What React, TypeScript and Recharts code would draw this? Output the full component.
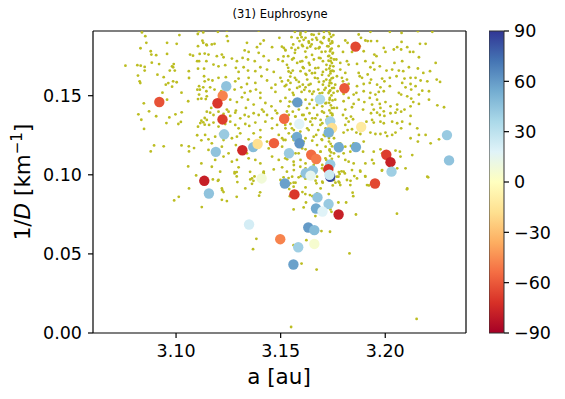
import React from 'react';
import { ScatterChart, Scatter, XAxis, YAxis, BarChart, Bar, ReferenceLine } from 'recharts';

// ---------- axes ----------
const xDomain: [number, number] = [3.0603, 3.2386];
const yDomain: [number, number] = [0, 0.1909];
const xTicks = [3.1, 3.15, 3.2];
const yTicks = [0, 0.05, 0.1, 0.15];
const cbTicks = [-90, -60, -30, 0, 30, 60, 90];
const cbRange: [number, number] = [-90, 90];

// ---------- background family members (a, 1/D) ----------
const bgLeft: [number, number][] = [
  [3.0837,0.190],[3.0853,0.1876],[3.0858,0.1834],[3.083,0.180],[3.1016,0.1883],[3.0957,0.1834],[3.1003,0.1828],[3.0879,0.1781],[3.0882,0.176],[3.0905,0.1756],[3.0957,0.1764],[3.0758,0.169],[3.0815,0.1693],[3.0831,0.169],[3.085,0.1682],[3.085,0.1659],[3.0884,0.1709],[3.0919,0.170],[3.0981,0.1686],[3.0989,0.170],[3.0986,0.168],[3.097,0.1659],[3.0994,0.1659],[3.0911,0.1633],[3.0818,0.1627],[3.0941,0.1617],[3.0826,0.1591],[3.0829,0.158],[3.0963,0.158],[3.0986,0.1591],[3.1003,0.1585],[3.0951,0.157],[3.0981,0.1557],[3.1026,0.1519],[3.0935,0.1519],[3.092,0.1479],[3.0957,0.1475],[3.0846,0.1452],[3.0871,0.1401],[3.082,0.1382],[3.0905,0.137],[3.0968,0.1363],[3.0997,0.1382],[3.1027,0.1395],[3.0834,0.1348],[3.0954,0.1327],[3.1011,0.1321],[3.1023,0.1334],[3.0847,0.129],[3.0895,0.1186],[3.0941,0.118],[3.0879,0.1148],[3.1026,0.1186],[3.1058,0.1053],[3.1096,0.0996],[3.1062,0.0914],[3.1013,0.0861],[3.1061,0.118],[3.1062,0.1148],[3.1086,0.1169],[3.1121,0.1072],
  [3.1104,0.189],[3.113,0.190],[3.111,0.1908],[3.1126,0.1848],[3.113,0.1834],[3.1105,0.1813],[3.1145,0.1823],[3.1067,0.176],[3.1081,0.1753],[3.1113,0.1764],[3.1137,0.1766],[3.1101,0.1718],[3.111,0.1718],[3.1145,0.1718],[3.1134,0.1671],[3.1105,0.1671],[3.1061,0.1655],[3.1062,0.1612],[3.1134,0.1623],[3.1137,0.1591],[3.111,0.156],[3.1102,0.1538],[3.1114,0.1538],[3.113,0.1553],[3.1145,0.1528],[3.111,0.1507],[3.1105,0.1479],[3.1121,0.1481],[3.1142,0.1479],[3.1058,0.1465],[3.1137,0.1359],[3.1121,0.1342],[3.1105,0.1304],[3.1116,0.1327],[3.113,0.1332],[3.1137,0.1317],[3.1101,0.125],[3.1121,0.1218],
];

const bgUpper: [number, number][] = [
  [3.120,0.1904],[3.1243,0.1912],[3.1395,0.1912],[3.1568,0.1904],[3.1595,0.1897],[3.1619,0.1904],[3.1648,0.1887],[3.1683,0.1891],[3.1707,0.1904],[3.1731,0.1904],[3.1752,0.1883],
  [3.1243,0.1876],[3.1248,0.1845],[3.1339,0.1834],[3.1171,0.1824],[3.1419,0.1849],[3.1403,0.1828],[3.1494,0.1866],[3.1552,0.187],[3.156,0.1824],[3.159,0.1845],[3.16,0.187],[3.1619,0.1866],[3.1635,0.1834],[3.1651,0.1855],[3.167,0.1866],[3.1691,0.184],[3.1707,0.187],[3.1731,0.1849],[3.1747,0.1834],
  [3.1147,0.1819],[3.1184,0.1828],[3.1219,0.176],[3.1328,0.1786],[3.1347,0.1777],[3.1387,0.1807],[3.1395,0.1771],[3.1459,0.1807],[3.1515,0.1802],[3.1523,0.1786],[3.1552,0.1802],[3.1568,0.1771],[3.1584,0.1802],[3.1606,0.1813],[3.1627,0.1802],[3.1648,0.1824],[3.1667,0.1798],[3.1686,0.1807],[3.1696,0.1777],[3.1723,0.1813],[3.1739,0.1792],[3.175,0.1771],
  [3.1155,0.176],[3.1195,0.175],[3.1227,0.1743],[3.1267,0.1735],[3.1291,0.1718],[3.1318,0.1739],[3.1344,0.1729],[3.1376,0.1718],[3.1419,0.175],[3.1443,0.1722],[3.1488,0.1729],[3.151,0.1718],[3.1536,0.175],[3.1555,0.1729],[3.1579,0.1707],[3.1603,0.1718],[3.1622,0.1743],[3.1635,0.1707],[3.1659,0.1729],[3.1683,0.1739],[3.1702,0.1718],[3.1728,0.175],[3.1739,0.1718],[3.1755,0.1729],
  [3.1179,0.1697],[3.1203,0.1686],[3.1235,0.1693],[3.1286,0.1676],[3.1299,0.165],[3.1323,0.168],[3.1344,0.1659],[3.1379,0.1655],[3.1403,0.168],[3.1435,0.1665],[3.1467,0.165],[3.1536,0.1676],[3.1549,0.1644],[3.1558,0.1659],[3.1595,0.1655],[3.1606,0.168],[3.1619,0.1638],[3.1638,0.1659],[3.1664,0.1644],[3.168,0.1676],[3.1702,0.165],[3.1718,0.1665],[3.1739,0.1655],[3.1752,0.1686],
  [3.1155,0.1602],[3.1174,0.1596],[3.1203,0.1613],[3.1238,0.1617],[3.1283,0.1591],[3.1299,0.1608],[3.1339,0.1574],[3.1347,0.1613],[3.1379,0.1581],[3.1408,0.1623],[3.1435,0.1596],[3.1475,0.157],[3.1499,0.1613],[3.1536,0.1596],[3.1547,0.1581],[3.1568,0.1613],[3.1587,0.1587],[3.1606,0.157],[3.1627,0.1602],[3.1643,0.1574],[3.1664,0.1613],[3.1683,0.1587],[3.1702,0.157],[3.1718,0.1602],[3.1734,0.1581],[3.175,0.1613],
  [3.1163,0.1553],[3.1184,0.1539],[3.1216,0.1528],[3.1235,0.1549],[3.128,0.1539],[3.1312,0.1553],[3.1328,0.1518],[3.1355,0.1528],[3.1382,0.1539],[3.1403,0.1518],[3.1456,0.1549],[3.1475,0.1524],[3.152,0.156],[3.1542,0.1539],[3.1558,0.1518],[3.1579,0.1549],[3.16,0.1524],[3.1619,0.1553],[3.1638,0.1528],[3.1651,0.1511],[3.168,0.1539],[3.1699,0.1518],[3.1715,0.1549],[3.1734,0.1528],[3.1755,0.1549],
  [3.1147,0.1496],[3.1259,0.1475],[3.1291,0.146],[3.1315,0.149],[3.1344,0.1475],[3.1371,0.1444],[3.1403,0.1486],[3.1427,0.1454],[3.1456,0.1433],[3.1499,0.1465],[3.1523,0.1486],[3.1539,0.1433],[3.1558,0.146],[3.1619,0.1475],[3.1638,0.1448],[3.1659,0.1423],[3.1675,0.1465],[3.1699,0.1433],[3.1718,0.1454],[3.1734,0.1475],[3.1755,0.1423],[3.1168,0.1423],[3.1243,0.1412],[3.1286,0.1406],[3.1334,0.1423],[3.1411,0.1412],[3.1475,0.1406],[3.1587,0.1412],
];

const bgUpperRight: [number, number][] = [
  [3.1809,0.1849],[3.182,0.1834],[3.1873,0.1887],[3.1884,0.1866],[3.1905,0.1849],[3.1916,0.1845],[3.1932,0.1845],[3.1961,0.1845],[3.1929,0.1904],[3.2022,0.1904],[3.2078,0.1897],[3.2156,0.1908],[3.2225,0.1904],
  [3.1777,0.1813],[3.1798,0.1777],[3.1841,0.1777],[3.1862,0.1798],[3.1878,0.1813],[3.1897,0.1781],[3.1948,0.176],[3.1958,0.175],[3.1993,0.1802],[3.2001,0.1777],[3.2041,0.1792],[3.2057,0.1807],[3.2078,0.184],[3.2076,0.1792],[3.2105,0.1807],[3.2118,0.1777],[3.2134,0.1777],[3.2161,0.1743],[3.2166,0.1828],[3.2193,0.1828],[3.2241,0.1707],
  [3.1766,0.1729],[3.1785,0.1707],[3.1817,0.1718],[3.1825,0.1697],[3.1865,0.1701],[3.1905,0.1718],[3.1929,0.168],[3.1942,0.1707],[3.1948,0.1665],[3.1974,0.1686],[3.2006,0.1659],[3.2033,0.1665],[3.2044,0.1707],[3.2065,0.1659],[3.2081,0.1718],[3.2113,0.168],[3.2086,0.1655],[3.2156,0.1672],[3.2182,0.1644],[3.2214,0.1655],
  [3.1753,0.1655],[3.1785,0.1665],[3.1809,0.1644],[3.1769,0.1623],[3.1793,0.1613],[3.1817,0.1602],[3.1873,0.1644],[3.1878,0.1623],[3.1889,0.1613],[3.1916,0.1634],[3.1932,0.1602],[3.1985,0.1608],[3.1996,0.1591],[3.2022,0.1613],[3.2054,0.1623],[3.2092,0.1608],[3.2121,0.1613],[3.2145,0.1613],[3.2169,0.1596],[3.2201,0.1591],[3.2246,0.1602],[3.2262,0.1587],
  [3.1761,0.157],[3.1798,0.1591],[3.1825,0.1574],[3.1865,0.156],[3.1897,0.1574],[3.1926,0.1581],[3.1961,0.157],[3.1977,0.1553],[3.2022,0.156],[3.2081,0.1581],[3.2097,0.1553],[3.2121,0.1574],[3.2124,0.1539],[3.2145,0.156],[3.2177,0.1532],[3.2209,0.1528],
  [3.1753,0.1518],[3.1772,0.1528],[3.1801,0.1511],[3.1849,0.1507],[3.1862,0.1518],[3.1897,0.1528],[3.1929,0.1518],[3.1953,0.1507],[3.1969,0.1524],[3.1993,0.1528],[3.2065,0.1518],[3.2076,0.1507],[3.2105,0.1496],[3.2124,0.1482],[3.2161,0.1507],[3.2209,0.1475],
  [3.1761,0.1475],[3.1801,0.1465],[3.1825,0.1486],[3.1849,0.1448],[3.1873,0.1475],[3.19,0.146],[3.1926,0.1486],[3.1937,0.1444],[3.1961,0.1475],[3.1974,0.1448],[3.2001,0.146],[3.2025,0.1433],[3.2057,0.1444],[3.2092,0.1412],[3.2121,0.1433],[3.2134,0.146],[3.2161,0.1448],[3.2249,0.1439],[3.2281,0.1427],
  [3.1769,0.1423],[3.1809,0.1412],[3.1841,0.1427],[3.1894,0.1412],[3.1945,0.1412],[3.1977,0.1423],[3.1993,0.1401],[3.2057,0.1412],
];

const bgMid: [number, number][] = [
  [3.1147,0.1399],[3.1163,0.1393],[3.1179,0.1378],[3.1203,0.1399],[3.1227,0.1385],[3.1251,0.1399],[3.1259,0.1372],[3.1283,0.1393],[3.1307,0.1357],[3.1328,0.1378],[3.1347,0.1368],[3.1371,0.1389],[3.1395,0.1378],[3.1419,0.1399],[3.1435,0.1378],[3.1459,0.1357],[3.1483,0.1389],[3.1499,0.1347],[3.1539,0.1378],[3.1558,0.1399],[3.1571,0.1368],[3.1603,0.1378],[3.1619,0.1351],[3.1638,0.1389],[3.1651,0.1357],[3.1675,0.1378],[3.1691,0.1347],[3.1707,0.1393],[3.1723,0.1368],[3.1747,0.1385],
  [3.1147,0.1347],[3.1158,0.1315],[3.1179,0.133],[3.1203,0.1305],[3.1235,0.1321],[3.1259,0.1336],[3.1283,0.1315],[3.1299,0.1294],[3.1331,0.1321],[3.135,0.1309],[3.1379,0.133],[3.1403,0.1283],[3.1427,0.1336],[3.1459,0.1294],[3.1483,0.1315],[3.1523,0.1294],[3.1547,0.1321],[3.1563,0.1283],[3.1627,0.1294],[3.1651,0.1315],[3.168,0.1283],[3.1699,0.1326],[3.1715,0.1294],
  [3.1139,0.1252],[3.1155,0.1224],[3.1171,0.1199],[3.1187,0.1241],[3.1211,0.1258],[3.1227,0.122],[3.1267,0.1231],[3.1291,0.1241],[3.1307,0.1262],[3.1347,0.1224],[3.1371,0.1262],[3.1403,0.1237],[3.1435,0.121],[3.1491,0.1252],[3.1507,0.1231],[3.1523,0.122],[3.1539,0.1262],[3.1555,0.1241],[3.1619,0.1231],[3.1651,0.1216],[3.167,0.1252],[3.1696,0.1224],[3.1712,0.1245],[3.1731,0.121],[3.1755,0.1231],
  [3.1155,0.1157],[3.1219,0.1178],[3.1251,0.1136],[3.1286,0.1188],[3.1339,0.1136],[3.1379,0.1157],[3.1443,0.1167],[3.1483,0.1199],[3.1507,0.1178],[3.1531,0.1146],[3.1571,0.1136],[3.1603,0.1167],[3.1619,0.1161],[3.1691,0.1146],[3.1715,0.1178],[3.1734,0.1153],[3.1755,0.1136],
  [3.1187,0.1094],[3.1227,0.1115],[3.1267,0.1083],[3.1291,0.1094],[3.1347,0.1104],[3.1379,0.1094],[3.1403,0.1072],[3.1459,0.1115],[3.1491,0.1094],[3.1531,0.1098],[3.1563,0.1062],[3.1595,0.1094],[3.1619,0.1072],[3.1675,0.1077],[3.1699,0.1062],[3.1718,0.1094],
  [3.1171,0.1051],[3.1211,0.102],[3.1299,0.1047],[3.1419,0.102],[3.1467,0.1034],[3.1507,0.1047],[3.1563,0.103],[3.1619,0.1041],[3.1651,0.102],[3.1707,0.103],
  [3.1203,0.0967],[3.128,0.1009],[3.1363,0.0977],[3.1419,0.1009],[3.1499,0.0967],[3.1555,0.0988],[3.1571,0.095],[3.1619,0.0977],[3.1667,0.0963],[3.1699,0.0956],[3.1755,0.0967],
  [3.1219,0.0914],[3.1331,0.0914],[3.1539,0.0935],[3.1619,0.092],[3.1691,0.0914],
];

const bgMidRight: [number, number][] = [
  [3.1798,0.1378],[3.1814,0.1357],[3.1836,0.1368],[3.1846,0.1351],[3.1825,0.1336],[3.1809,0.1315],[3.182,0.1283],[3.1801,0.1267],[3.1841,0.1288],[3.1862,0.1267],[3.1897,0.13],[3.1932,0.1389],[3.1961,0.1393],[3.1974,0.1378],[3.1996,0.1372],[3.2025,0.1389],[3.2049,0.1393],[3.2076,0.1399],[3.2121,0.1372],[3.2118,0.1321],[3.2076,0.1294],[3.2049,0.1267],[3.2033,0.1252],[3.2009,0.1245],[3.2001,0.1267],[3.1977,0.1258],[3.1953,0.1258],[3.1929,0.1267],[3.1897,0.121],[3.1881,0.1258],[3.191,0.1336],[3.1937,0.1347],[3.1945,0.133],[3.1977,0.1336],[3.1993,0.1326],[3.2033,0.1336],[3.2057,0.1326],[3.2081,0.1336],[3.2153,0.1294],[3.2161,0.1252],[3.2193,0.1252],[3.2217,0.1199],[3.2257,0.1224],[3.2156,0.121],[3.2121,0.1231],
  [3.1785,0.1199],[3.1809,0.1178],[3.1836,0.1182],[3.1849,0.1199],[3.1833,0.1146],[3.1801,0.1136],[3.1777,0.1115],[3.1809,0.1094],[3.1825,0.1083],[3.1849,0.1072],[3.1894,0.1146],[3.1945,0.1146],[3.1977,0.1161],[3.1985,0.1136],[3.2049,0.1153],[3.207,0.1146],[3.2129,0.1125],[3.2073,0.1115],[3.2097,0.1041],[3.2057,0.1041],[3.2041,0.1077],[3.1985,0.103],[3.1945,0.1072],[3.1937,0.1094],[3.1905,0.1072],[3.1881,0.102],[3.1841,0.103],[3.1801,0.102],[3.1782,0.1005],[3.1769,0.0988],[3.1817,0.0967],[3.1865,0.0977],[3.1905,0.0988],[3.1833,0.0935],[3.1785,0.0935],[3.1777,0.0956],[3.1913,0.0935],[3.2201,0.0988],[3.2105,0.0914],
];

const bgCluster: [number, number][] = [
  [3.1506,0.181],[3.1522,0.179],[3.1514,0.1748],[3.153,0.1695],[3.1538,0.1653],[3.1506,0.159],[3.1527,0.1568],[3.1546,0.1621],[3.1562,0.1737],[3.157,0.179],[3.1581,0.1864],[3.1594,0.1885],[3.161,0.1853],[3.1602,0.1821],[3.1618,0.1779],[3.1634,0.1843],[3.1642,0.1811],[3.165,0.1758],[3.1658,0.1885],[3.1674,0.1853],[3.1682,0.18],[3.169,0.1737],[3.1698,0.1832],[3.1706,0.1864],[3.1714,0.1779],[3.1719,0.1695],
  [3.1594,0.1716],[3.161,0.1674],[3.1623,0.1632],[3.1639,0.1695],[3.165,0.1642],[3.1666,0.1674],[3.1677,0.161],[3.1698,0.1632],[3.1706,0.159],[3.1575,0.16],[3.1591,0.1558],[3.1613,0.1537],[3.1634,0.1568],[3.1658,0.1526],[3.1687,0.1515],[3.1709,0.1537],[3.1562,0.1505],[3.1543,0.1463],[3.1597,0.1442],[3.1626,0.1421],[3.165,0.1473],[3.1674,0.1442],[3.1698,0.14],[3.1714,0.1452],
  [3.153,0.14],[3.157,0.1368],[3.161,0.1378],[3.1642,0.1336],[3.1666,0.1357],[3.169,0.1315],[3.1719,0.1347],[3.1522,0.1315],[3.1554,0.1294],[3.1594,0.1273],[3.1634,0.1283],[3.1658,0.1241],[3.1706,0.1252],[3.1514,0.122],[3.1562,0.122],[3.161,0.121],[3.1674,0.1188],[3.1698,0.122],[3.1546,0.1157],[3.1586,0.1136],[3.1642,0.1115],[3.169,0.1146],[3.1714,0.1104],[3.1522,0.1104],[3.1562,0.1083],[3.1594,0.1051],[3.1658,0.1062],[3.1698,0.1041],[3.153,0.102],[3.1618,0.0977],[3.1674,0.0988],
];

const bgBand: [number, number][] = [
  [3.1735,0.189],[3.1742,0.1872],[3.1731,0.1858],[3.1746,0.1843],[3.1738,0.1829],[3.1729,0.1812],[3.1744,0.1798],[3.1736,0.1781],[3.1748,0.1766],[3.1732,0.1752],[3.1741,0.1737],[3.1729,0.1721],[3.1745,0.1706],[3.1737,0.1689],[3.1733,0.1672],[3.1747,0.1658],[3.1738,0.1641],[3.173,0.1627],[3.1744,0.161],[3.1736,0.1596],[3.1742,0.1579],[3.1731,0.1563],[3.1746,0.1548],[3.1737,0.1533],[3.1729,0.1517],[3.1743,0.1502],[3.1735,0.1486],[3.1748,0.147],[3.1732,0.1455],[3.174,0.1439],[3.1745,0.1422],[3.1733,0.1407],[3.1739,0.1391],[3.1747,0.1376],[3.173,0.136],[3.1742,0.1345],[3.1736,0.1312],[3.1744,0.125],[3.1731,0.1232],[3.1739,0.1196],[3.1746,0.118],[3.1734,0.116],[3.1741,0.1142],[3.1736,0.112],[3.1745,0.1101],[3.1731,0.1085],
];

const bgLower: [number, number][] = [
  [3.1176,0.0971],[3.12,0.0962],[3.0991,0.0838],[3.1123,0.0796],[3.1221,0.0903],[3.1227,0.0891],[3.1243,0.0834],[3.1219,0.0842],[3.129,0.0861],[3.128,0.1017],[3.129,0.1017],[3.129,0.099],[3.1293,0.0954],[3.1354,0.1019],[3.1375,0.099],[3.1355,0.0971],[3.137,0.0962],[3.1363,0.0943],[3.1418,0.1013],[3.1402,0.0889],[3.1397,0.0868],[3.1384,0.0595],[3.1368,0.053],[3.1538,0.0979],[3.1541,0.091],[3.1544,0.0865],
  [3.1562,0.095],[3.1586,0.0984],[3.1597,0.0992],[3.1546,0.0946],[3.1562,0.0925],[3.1604,0.0891],[3.1618,0.0878],[3.164,0.0872],[3.1652,0.0865],[3.1663,0.0853],[3.1621,0.0825],[3.161,0.0794],[3.1562,0.0781],[3.1671,0.0946],[3.1701,0.095],[3.1674,0.0882],[3.173,0.0878],[3.1749,0.0933],[3.1762,0.095],[3.1781,0.095],[3.1776,0.0988],[3.1778,0.1017],[3.1791,0.1022],[3.1807,0.1009],[3.1852,0.0992],[3.1834,0.0962],[3.1904,0.0992],[3.188,0.1026],[3.1922,0.0933],[3.1984,0.1026],[3.1776,0.0825],[3.1813,0.0825],[3.1844,0.0887],[3.1847,0.0865],[3.186,0.0749],[3.1738,0.0781],[3.1743,0.0766],[3.1666,0.0739],[3.1695,0.0644],[3.1736,0.064],[3.1623,0.0587],[3.1562,0.0555],[3.16,0.0439],[3.1672,0.0401],[3.1829,0.0503],[3.2056,0.0754],[3.2104,0.0908],[3.2205,0.0984],[3.155,0.0038],[3.215,0.0089],[3.1514,0.0984],
];

// ---------- coloured members: a, 1/D, colour value ----------
const colA = [3.092,3.124,3.1223,3.1198,3.1222,3.123,3.119,3.1317,3.1369,3.139,3.1468,3.1517,3.154,3.1409,3.152,3.1135,3.1157,3.1349,3.1498,3.1858,3.1805,3.1688,3.158,3.1589,3.1737,3.1746,3.1885,3.173,3.1578,3.159,3.2295,3.1778,3.186,3.1646,3.167,3.2005,3.2025,3.2305,3.1737,3.1728,3.162,3.1654,3.1643,3.1737,3.1733,3.203,3.1951,3.1566,3.1676,3.1669,3.1729,3.17,3.1777,3.1632,3.1661,3.1584,3.1661,3.1561];
const colD = [0.146,0.156,0.150,0.1452,0.135,0.1256,0.1145,0.1155,0.1175,0.1195,0.120,0.1354,0.1136,0.0977,0.0945,0.0962,0.0882,0.0686,0.0593,0.181,0.1547,0.1477,0.1458,0.1321,0.1338,0.1296,0.1302,0.1268,0.124,0.1199,0.1251,0.1174,0.1175,0.1127,0.110,0.1127,0.108,0.1091,0.1066,0.1036,0.101,0.1028,0.0995,0.0988,0.100,0.102,0.0945,0.0876,0.0857,0.0787,0.0815,0.0768,0.0749,0.0667,0.065,0.0542,0.0563,0.0433];
const colV = [-62,45,-48,-70,-68,42,45,-75,48,-18,-58,-55,42,8,58,-78,45,22,-48,-65,-60,35,60,18,38,-18,-12,52,55,62,42,55,55,-55,-50,-68,-78,45,42,-72,45,45,15,85,25,40,-65,-70,45,55,42,18,-78,60,48,40,5,58];

// ---------- colormap (RdYlBu) ----------
const RDYLBU = ['#a50026','#d73027','#f46d43','#fdae61','#fee090','#ffffbf','#e0f3f8','#abd9e9','#74add1','#4575b4','#313695'];
function hex(c: string) { return [1, 3, 5].map(i => parseInt(c.slice(i, i + 2), 16)); }
function cmap(v: number) {
  let t = (v - cbRange[0]) / (cbRange[1] - cbRange[0]);
  t = Math.max(0, Math.min(1, t));
  const p = t * (RDYLBU.length - 1);
  const i = Math.min(RDYLBU.length - 2, Math.floor(p));
  const f = p - i;
  const a = hex(RDYLBU[i]), b = hex(RDYLBU[i + 1]);
  const m = a.map((ai, k) => Math.round(ai + (b[k] - ai) * f));
  return `rgb(${m[0]},${m[1]},${m[2]})`;
}

const bgData = [...bgLeft, ...bgUpper, ...bgUpperRight, ...bgMid, ...bgMidRight, ...bgCluster, ...bgBand, ...bgLower].map(([x, y]) => ({ x, y }));
const colData = colA.map((x, i) => ({ x, y: colD[i], v: colV[i] }));
const cbData = [{ k: 'cb', r: cbRange }];

const FONT = 'DejaVu Sans';
const tickStyle = { fontSize: 17.5, fill: '#000', fontFamily: FONT };
const minus = (s: string) => s.replace('-', '\u2212');

const BgDot = (p: any) => <circle cx={p.cx} cy={p.cy} r={1.4} fill="#bcbd22" />;
const ColDot = (p: any) => <circle cx={p.cx} cy={p.cy} r={5.2} fill={cmap(p.payload.v)} />;

export default function App() {
  return (
    <div style={{ position: 'absolute', left: 0, top: 0, width: 565, height: 399, background: '#fff' }}>
      <svg width={0} height={0} style={{ position: 'absolute' }}>
        <defs>
          <linearGradient id="cbgrad" x1="0" y1="1" x2="0" y2="0">
            {RDYLBU.map((c, i) => <stop key={i} offset={i / (RDYLBU.length - 1)} stopColor={c} />)}
          </linearGradient>
        </defs>
      </svg>
      <div style={{ position: 'absolute', left: 0, top: 0 }}>
        <ScatterChart width={565} height={399} margin={{ top: 31, right: 99, bottom: 0, left: 0 }}>
          <XAxis type="number" dataKey="x" domain={xDomain} ticks={xTicks} allowDataOverflow height={66}
            tickSize={5} tickMargin={7} tick={tickStyle} tickFormatter={(v: number) => v.toFixed(2)}
            axisLine={{ stroke: '#000', strokeWidth: 1.2 }} tickLine={{ stroke: '#000', strokeWidth: 1.2 }} />
          <YAxis type="number" dataKey="y" domain={yDomain} ticks={yTicks} allowDataOverflow width={93}
            tickSize={5} tickMargin={6} tick={tickStyle} tickFormatter={(v: number) => v.toFixed(2)}
            axisLine={{ stroke: '#000', strokeWidth: 1.2 }} tickLine={{ stroke: '#000', strokeWidth: 1.2 }} />
          <Scatter data={bgData} isAnimationActive={false} shape={BgDot} />
          <Scatter data={colData} isAnimationActive={false} shape={ColDot} />
          <ReferenceLine y={yDomain[1]} stroke="#000" strokeWidth={1.2} ifOverflow="visible" />
          <ReferenceLine x={xDomain[1]} stroke="#000" strokeWidth={1.2} ifOverflow="visible" />
        </ScatterChart>
      </div>
      <div style={{ position: 'absolute', left: 489, top: 0 }}>
        <BarChart width={76} height={399} data={cbData} margin={{ top: 31, right: 0, bottom: 66, left: 0 }} barCategoryGap={0}>
          <XAxis dataKey="k" hide />
          <YAxis orientation="right" type="number" domain={cbRange} ticks={cbTicks} width={61}
            tickSize={5} tickMargin={5} tick={tickStyle} tickFormatter={(v: number) => minus(String(v))}
            axisLine={false} tickLine={{ stroke: '#000', strokeWidth: 1.2 }} />
          <Bar dataKey="r" fill="url(#cbgrad)" stroke="#333" strokeWidth={1} isAnimationActive={false} />
        </BarChart>
      </div>
      <svg width={565} height={399} style={{ position: 'absolute', left: 0, top: 0, pointerEvents: 'none' }}>
        <text x={280} y={18} textAnchor="middle" fontSize={11.5} fontFamily={FONT} fill="#000">(31) Euphrosyne</text>
        <text x={279} y={384} textAnchor="middle" fontSize={21.5} fontFamily={FONT} fill="#000">a [au]</text>
        <text transform="translate(30,182) rotate(-90)" textAnchor="middle" fontSize={21.5} fontFamily={FONT} fill="#000">
          1/<tspan fontStyle="italic">D</tspan> [km<tspan dy={-8} fontSize={15}>{'\u2212'}1</tspan><tspan dy={8}>]</tspan>
        </text>
      </svg>
    </div>
  );
}
